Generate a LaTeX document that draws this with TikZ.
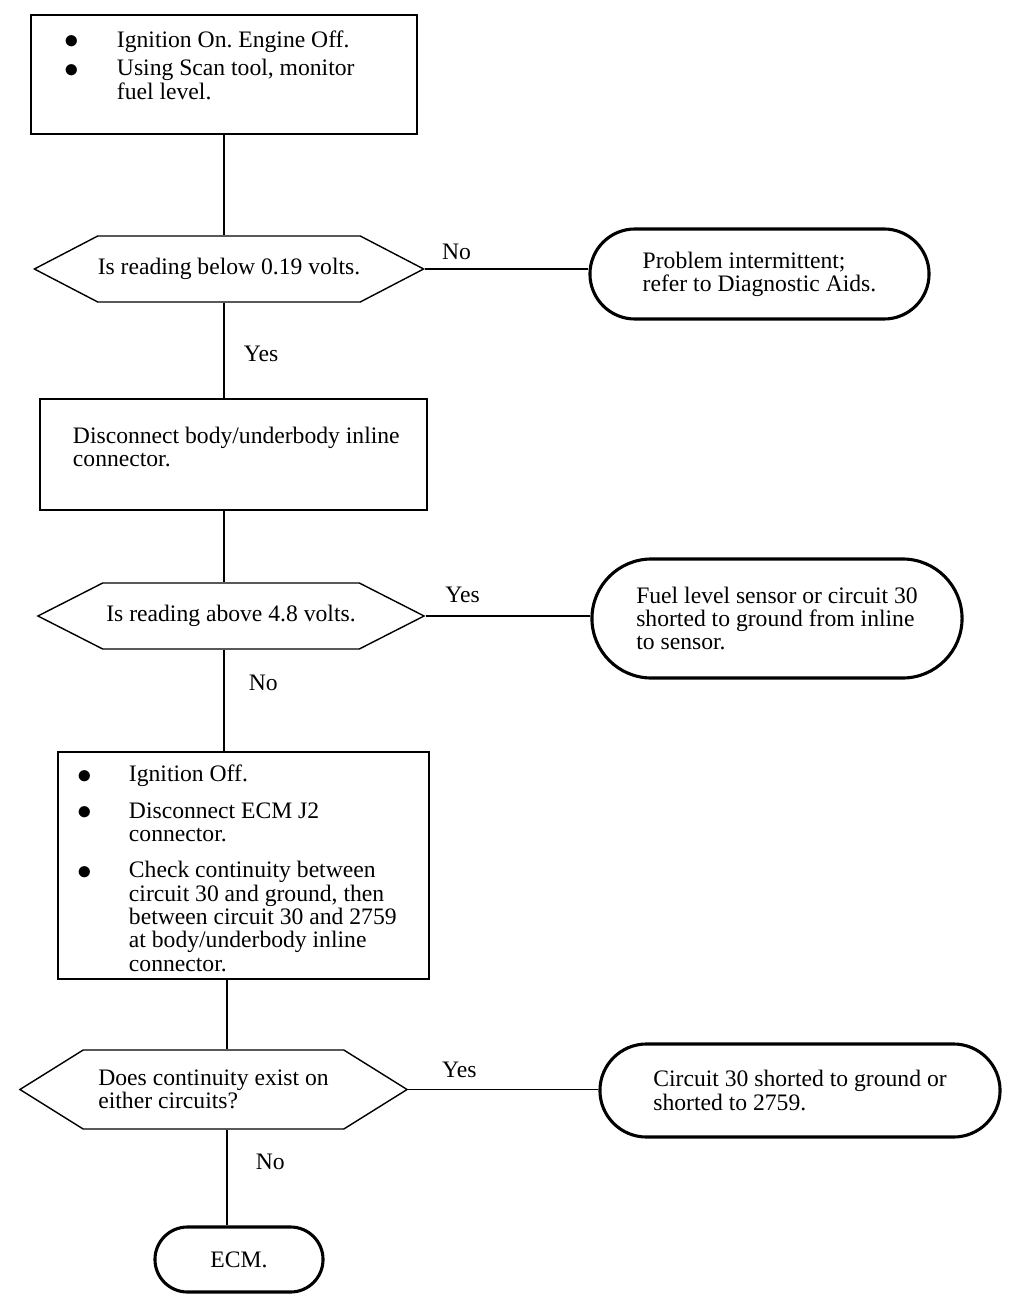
\documentclass[tikz,border=0pt]{standalone}
\usepackage{fontspec}
\setmainfont{Liberation Serif}
\usetikzlibrary{positioning}
\usetikzlibrary{shapes.symbols,shapes.misc}
\newcommand{\blt}{\smash{\raisebox{-1pt}{\fontsize{22}{16}\selectfont$\bullet$}}}

\begin{document}
\begin{tikzpicture}[x=0.025cm,y=-0.025cm,
	font=\fontsize{16.8}{16.5}\selectfont\frenchspacing,
	every node/.style={inner sep=0pt},
	stepbox/.style={draw, line width=1.3pt, rectangle},
	query/.style={draw, line width=1pt, signal, signal to=west and east, align=left},
	result/.style={draw, line width=2.2pt, rounded rectangle, align=left},
	link/.style={line width=1.2pt}]
	\useasboundingbox (0,0) rectangle (1024,1312);

	\node (b1) [stepbox, minimum width=9.65cm, minimum height=2.975cm] at (224,74.5)
	{\begin{tabular}{@{\hspace{0.85cm}}p{1.3cm}@{}p{7.5cm}@{}}
		\blt & Ignition On. Engine Off.\\[0.12cm]
		\blt & Using Scan tool, monitor\\
		& fuel level.\\[0.3cm]
	\end{tabular}};
	\node (q1) [query, signal pointer angle=55, minimum width=9.65cm, minimum height=1.65cm] at (229,269)
	{Is reading below 0.19 volts.};
	\node (r1) [result, minimum width=8.475cm, minimum height=2.25cm] at (759.5,274)
	{Problem intermittent;\\refer to Diagnostic Aids.};
	\node (b2) [stepbox, minimum width=9.675cm, minimum height=2.775cm] at (233.5,454.5)
	{\begin{tabular}{@{\hspace{0.825cm}}p{8.85cm}@{}}
		Disconnect body/underbody inline\\
		connector.\\[0.2cm]
	\end{tabular}};
	\node (q2) [query, signal pointer angle=54, minimum width=9.65cm, minimum height=1.65cm] at (231,616)
	{Is reading above 4.8 volts.};
	\node (r2) [result, minimum width=9.25cm, minimum height=2.975cm] at (777,618.5)
	{Fuel level sensor or circuit 30\\shorted to ground from inline\\to sensor.};
	\node (b3) [stepbox, minimum width=9.275cm, minimum height=5.675cm] at (243.5,865.5)
	{\begin{tabular}{@{\hspace{0.5cm}}p{1.275cm}@{}p{7.5cm}@{}}
		\noalign{\vspace{0.3cm}}
		\blt & Ignition Off.\\[0.33cm]
		\blt & Disconnect ECM J2\\
		& connector.\\[0.33cm]
		\blt & Check continuity between\\
		& circuit 30 and ground, then\\
		& between circuit 30 and 2759\\
		& at body/underbody inline\\
		& connector.
	\end{tabular}};
	\node (q3) [query, signal pointer angle=64, minimum width=9.675cm, minimum height=1.975cm] at (213.5,1089.5)
	{Does continuity exist on\\either circuits?};
	\node (r3) [result, minimum width=10cm, minimum height=2.325cm] at (800,1090.5)
	{Circuit 30 shorted to ground or\\shorted to 2759.};
	\node (ecm) [result, minimum width=4.2cm, minimum height=1.625cm] at (239,1259.5) {ECM.};
	\coordinate (c3) at (227,1000);

	\draw [link] (b1.south) -- (b1.south |- q1.north);
	\draw [link] (q1.east) -- node [pos=0, above right=0.2cm and 0.4cm] {No} (q1.east -| r1.west);
	\draw [link] (q1.south -| b1.south) -- node [pos=0.536, right=0.475cm] {Yes} (b2.north -| b1.south);
	\draw [link] (b2.south -| b1.south) -- (q2.north -| b1.south);
	\draw [link] (q2.east) -- node [pos=0, above right=0.3cm and 0.475cm] {Yes} (q2.east -| r2.west);
	\draw [link] (q2.south -| b1.south) -- node [pos=0.33, right=0.6cm] {No} (b3.north -| b1.south);
	\draw [link] (b3.south -| c3) -- (q3.north -| c3);
	\draw [link] (q3.east) -- node [pos=0, above right=0.28cm and 0.825cm] {Yes} (q3.east -| r3.west);
	\draw [link] (q3.south -| c3) -- node [pos=0.34, right=0.7cm] {No} (ecm.north -| c3);
\end{tikzpicture}
\end{document}
